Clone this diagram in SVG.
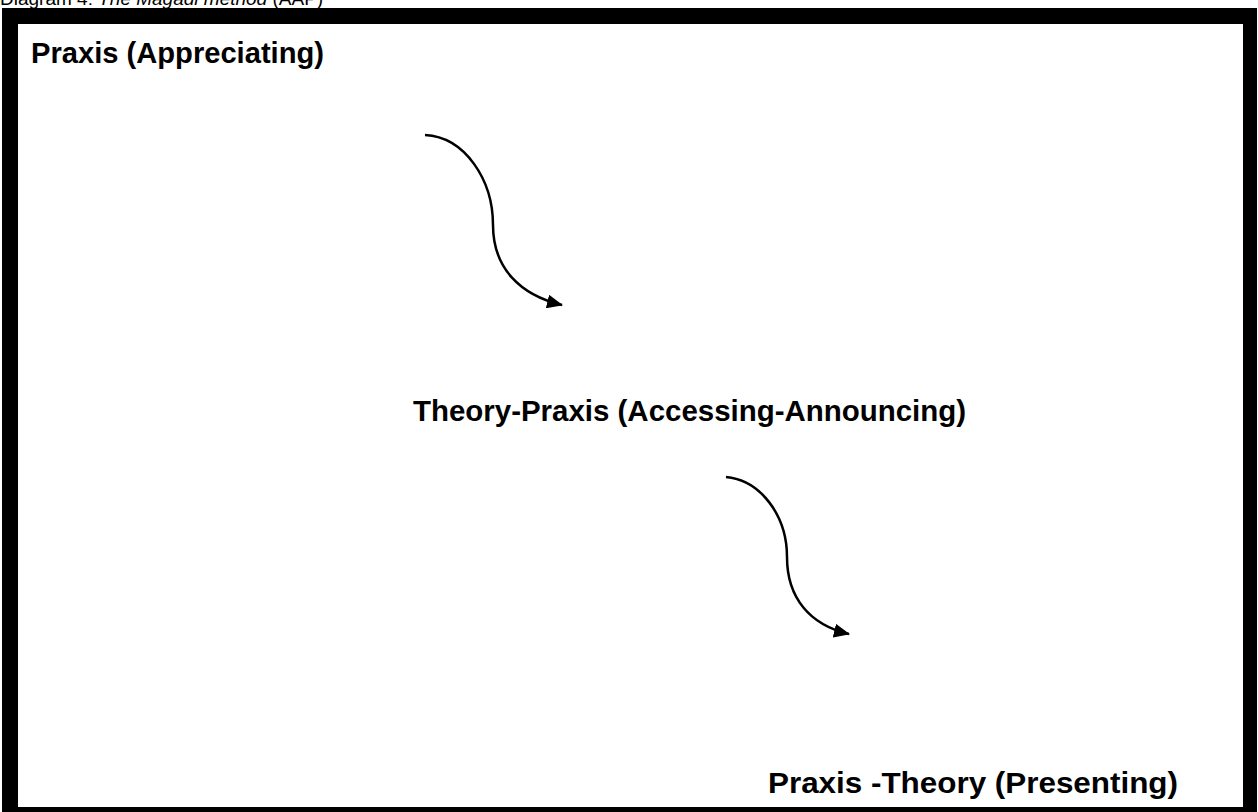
<svg xmlns="http://www.w3.org/2000/svg" width="1258" height="812" viewBox="0 0 1258 812">
<style>
.lbl{font-family:"Liberation Sans",Arial,sans-serif;font-weight:bold;font-size:29px;fill:#000}
.ttl{font-family:"Liberation Sans",Arial,sans-serif;font-size:19px;fill:#000}
.conn{fill:none;stroke:#000;stroke-width:2.5}
</style>
<defs>
<marker id="ah" markerWidth="16" markerHeight="14" refX="15" refY="7" orient="auto" markerUnits="userSpaceOnUse">
<path d="M0,0 L16,7 L0,14 Z" fill="#000"/>
</marker>
</defs>
<rect width="1258" height="812" fill="#fff"/>
<text class="ttl" x="0" y="5">Diagram 4: <tspan font-style="italic">The Magadi method</tspan> (AAP)</text>
<g id="frame">
<path d="M2,8 H1257 V830 H2 Z M18,24 V807 H1243 V24 Z" fill="#000" fill-rule="evenodd"/>
</g>
<g id="node-praxis"><text class="lbl" x="31" y="63" textLength="293" lengthAdjust="spacingAndGlyphs">Praxis (Appreciating)</text></g>
<g id="node-theory-praxis"><text class="lbl" x="413" y="421" textLength="553" lengthAdjust="spacingAndGlyphs">Theory-Praxis (Accessing-Announcing)</text></g>
<g id="node-praxis-theory"><text class="lbl" x="768" y="793" textLength="410" lengthAdjust="spacingAndGlyphs">Praxis -Theory (Presenting)</text></g>
<g id="connectors">
<path class="conn" d="M425,135 C465,137 493,180 493,225 C493,268 520,295 562,305" marker-end="url(#ah)"/>
<path class="conn" d="M726,477 C760,480 787,515 787,557 C787,598 810,625 849,634" marker-end="url(#ah)"/>
</g>
</svg>
